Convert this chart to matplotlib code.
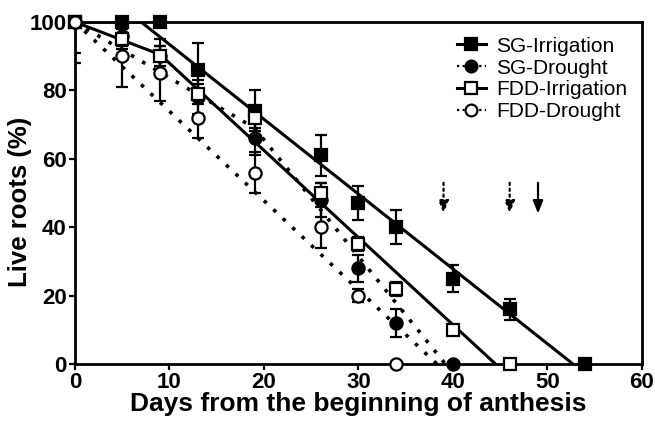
import matplotlib
matplotlib.use("Agg")
import matplotlib.pyplot as plt
from matplotlib.lines import Line2D
import numpy as np

plt.rcParams['font.family'] = ['Liberation Sans', 'DejaVu Sans']

# ---- data ----
days = [0, 5, 9, 13, 19, 26, 30, 34, 40, 46, 54]

sg_irr = [100, 100, 100, 86, 74, 61, 47, 40, 25, 16, 0]
sg_irr_err = [0, 0, 0, 8, 6, 6, 5, 5, 4, 3, 0]

sg_dro = [100, 96, 90, 78, 66, 48, 28, 12, 0]
sg_dro_err = [9, 3, 5, 5, 5, 5, 4, 4, 0]

fdd_irr = [100, 95, 90, 79, 72, 50, 35, 22, 10, 0]
fdd_irr_err = [0, 3, 3, 3, 3, 3, 2, 2, 1, 0]

fdd_dro = [100, 90, 85, 72, 56, 40, 20, 0]
fdd_dro_err = [12, 9, 8, 6, 6, 6, 2, 0]

# fitted (segmented) regression lines: breakpoints
sg_irr_fit_x = [0, 7, 52.7]
sg_irr_fit_y = [100, 100, 0]
fdd_irr_fit_x = [0, 9, 44.5]
fdd_irr_fit_y = [100, 90.5, 0]
sg_dro_fit_x = [0, 19, 39.2]
sg_dro_fit_y = [100, 69, 0]
fdd_dro_fit_x = [0, 38.3]
fdd_dro_fit_y = [100, 0]

# arrows (days) marking end points
arrow_days = [39, 46, 49]
arrow_styles = ['dotted', 'dotted', 'solid']
arrow_top, arrow_bottom = 53, 44

labels = ['SG-Irrigation', 'SG-Drought', 'FDD-Irrigation', 'FDD-Drought']
x_ticks = [0, 10, 20, 30, 40, 50, 60]
y_ticks = [0, 20, 40, 60, 80, 100]

# ---- figure ----
fig = plt.figure(figsize=(6.55, 4.22), dpi=100)
ax = fig.add_axes([0.1145, 0.1374, 0.8656, 0.8104])

dotted = (0, (1, 2.6))
LW = 2.2

series = [
    (sg_irr, sg_irr_err, sg_irr_fit_x, sg_irr_fit_y, 's', 'black', '-'),
    (sg_dro, sg_dro_err, sg_dro_fit_x, sg_dro_fit_y, 'o', 'black', dotted),
    (fdd_irr, fdd_irr_err, fdd_irr_fit_x, fdd_irr_fit_y, 's', 'white', '-'),
    (fdd_dro, fdd_dro_err, fdd_dro_fit_x, fdd_dro_fit_y, 'o', 'white', dotted),
]

handles = []
for (vals, errs, fx, fy, mk, fc, ls), lab in zip(series, labels):
    x = days[:len(vals)]
    lw = LW if ls == '-' else 2.6
    ax.plot(fx, fy, color='black', lw=lw, linestyle=ls, zorder=2,
            dash_capstyle='butt', solid_capstyle='butt')
    ax.errorbar(x, vals, yerr=errs, fmt='none', ecolor='black', elinewidth=1.6,
                capsize=4.5, capthick=1.6, zorder=3)
    ax.plot(x, vals, linestyle='none', marker=mk, markersize=8.5 if mk == 's' else 8.8,
            markerfacecolor=fc, markeredgecolor='black', markeredgewidth=1.6,
            zorder=4, clip_on=False)
    handles.append(Line2D([0], [0], color='black', lw=LW if ls == '-' else 1.6,
                          linestyle=ls if ls == '-' else (0, (1, 1.5)),
                          marker=mk, markersize=8.5, markerfacecolor=fc,
                          markeredgecolor='black', markeredgewidth=1.6))

for d, st in zip(arrow_days, arrow_styles):
    ax.annotate('', xy=(d, arrow_bottom), xytext=(d, arrow_top),
                arrowprops=dict(arrowstyle='-|>,head_length=0.75,head_width=0.3',
                                color='black', lw=1.6, shrinkA=0, shrinkB=0,
                                linestyle=':' if st == 'dotted' else '-'),
                zorder=5)

ax.set_xlim(0, 60)
ax.set_ylim(0, 100)
ax.set_xticks(x_ticks)
ax.set_yticks(y_ticks)
for s in ax.spines.values():
    s.set_linewidth(2.0)
ax.tick_params(axis='both', direction='out', length=4, width=1.6, pad=2,
               labelsize=16, top=False, right=False)
for t in ax.get_xticklabels() + ax.get_yticklabels():
    t.set_fontweight('bold')

ax.set_xlabel('Days from the beginning of anthesis', fontsize=19, fontweight='bold', labelpad=-1)
ax.set_ylabel('Live roots (%)', fontsize=18.5, fontweight='bold')
ax.yaxis.set_label_coords(-0.076, 0.475)

leg = ax.legend(handles, labels, loc='upper right', bbox_to_anchor=(1.0, 1.0),
                frameon=False, fontsize=15, handlelength=1.4, handletextpad=0.5,
                labelspacing=0.14, borderaxespad=0.3)

fig.savefig('out.png', dpi=100)
